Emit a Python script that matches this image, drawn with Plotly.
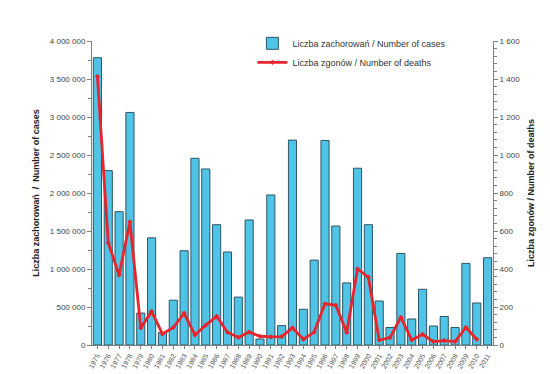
import plotly.graph_objects as go

years = [str(y) for y in range(1975, 2012)]
cases = [3780000, 2295000, 1754000, 3060000, 420000, 1410000, 165000, 590000, 1240000,
         2457000, 2316000, 1583000, 1224000, 630000, 1645000, 79000, 1974000, 255000,
         2696000, 470000, 1117000, 2691000, 1565000, 817000, 2326000, 1583000, 579000,
         230000, 1204000, 342000, 733000, 250000, 375000, 230000, 1074000, 553000, 1148000]
death_years = years[:-1]
deaths = [1414, 538, 368, 648, 90, 177, 58, 92, 167, 53, 105, 151, 67, 40, 68, 46, 43, 44,
          90, 30, 68, 217, 209, 66, 400, 357, 26, 39, 146, 26, 56, 18, 23, 18, 92, 30]

left_vals = list(range(0, 4000001, 500000))
left_text = ["0", "500 000", "1 000 000", "1 500 000", "2 000 000", "2 500 000",
             "3 000 000", "3 500 000", "4 000 000"]
right_vals = list(range(0, 1601, 200))
right_text = ["0", "200", "400", "600", "800", "1 000", "1 200", "1 400", "1 600"]

FONT = "Liberation Sans, Arial, sans-serif"
AX = "#7f7f7f"

fig = go.Figure()
fig.add_trace(go.Bar(
    x=years, y=cases, name="Liczba zachorowań / Number of cases",
    marker=dict(color="#4fc4e6", line=dict(color="#2e5563", width=1)),
    yaxis="y",
))
fig.add_trace(go.Scatter(
    x=death_years, y=deaths, name="Liczba zgonów / Number of deaths",
    mode="lines+markers",
    line=dict(color="#e8242c", width=2.8),
    marker=dict(color="#e8242c", size=4, symbol="diamond"),
    yaxis="y2",
))

fig.update_layout(
    width=550, height=374,
    margin=dict(l=84, r=65, t=33, b=37),
    paper_bgcolor="white", plot_bgcolor="white",
    font=dict(family=FONT, size=8, color="#444"),
    bargap=0.25,
    showlegend=True,
    legend=dict(x=0.40, y=1.04, xanchor="left", yanchor="top",
                font=dict(size=9, color="#333"), bgcolor="rgba(0,0,0,0)",
                tracegroupgap=0, itemwidth=30),
    xaxis=dict(
        type="category", tickangle=-60, tickfont=dict(size=7, color="#555"),
        showline=True, linecolor=AX, linewidth=1, ticks="outside", ticklen=3,
        tickcolor=AX, showgrid=False, range=[-0.5, 36.5],
    ),
    yaxis=dict(
        range=[0, 4000000], tickvals=left_vals, ticktext=left_text,
        showline=True, linecolor=AX, linewidth=1, ticks="outside", ticklen=4,
        tickcolor=AX, showgrid=False, zeroline=False,
        tickfont=dict(size=8, color="#444"),
        minor=dict(ticks="outside", ticklen=3, tickcolor=AX, dtick=250000),
        title=dict(text="<b>Liczba zachorowań  /  Number of cases</b>",
                   font=dict(size=9, color="#222", family=FONT), standoff=8),
    ),
    yaxis2=dict(
        overlaying="y", side="right", range=[0, 1600],
        tickvals=right_vals, ticktext=right_text,
        showline=True, linecolor=AX, linewidth=1, ticks="outside", ticklen=4,
        tickcolor=AX, showgrid=False, zeroline=False,
        tickfont=dict(size=8, color="#444"),
        minor=dict(ticks="outside", ticklen=3, tickcolor=AX, dtick=40),
        title=dict(text="<b>Liczba zgonów / Number of deaths</b>",
                   font=dict(size=9, color="#222", family=FONT), standoff=8),
    ),
)

fig.write_html("out.html")
